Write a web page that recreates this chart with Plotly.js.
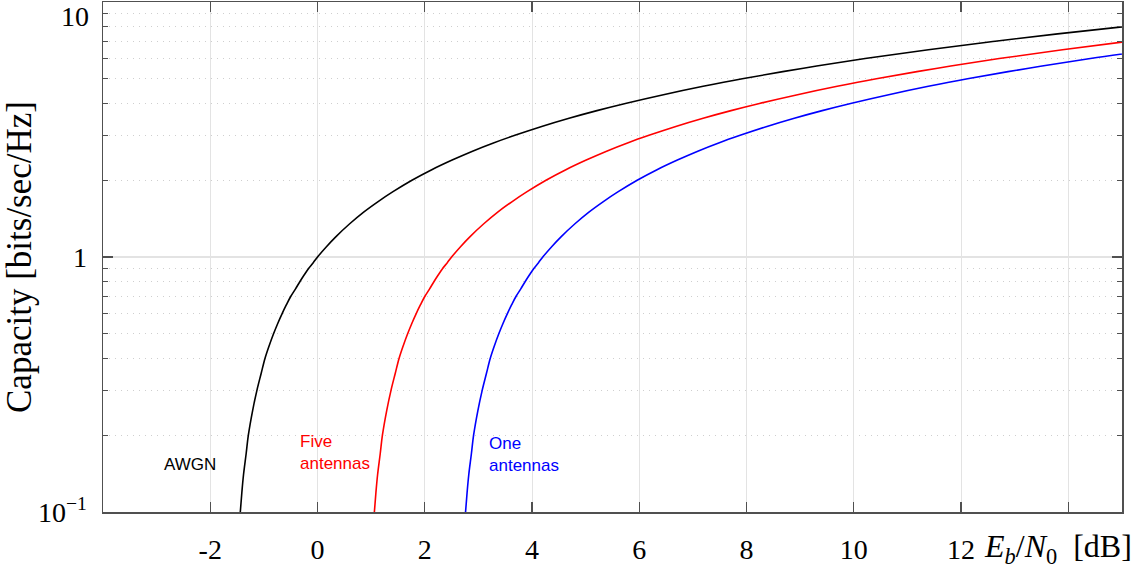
<!DOCTYPE html>
<html><head><meta charset="utf-8">
<script src="https://cdn.plot.ly/plotly-3.0.1.min.js"></script>
<style>html,body{margin:0;padding:0;background:#fff}#chart{width:1142px;height:572px}</style>
</head><body><div id="chart"></div><script>
// Eb/N0 [dB] and capacity [bits/sec/Hz]
const awgnEbN0 = [-1.47, -1.44, -1.41, -1.38, -1.33, -1.29, -1.21, -1.13, -1.05, -0.98, -0.90, -0.82, -0.74, -0.66, -0.58, -0.50, -0.41, -0.33, -0.25, -0.17, -0.08, 0.00, 0.17, 0.34, 0.60, 0.86, 1.13, 1.40, 1.76, 2.13, 2.51, 2.89, 3.28, 3.68, 4.18, 4.69, 5.21, 5.74, 6.45, 7.19, 7.92, 9.06, 10.21, 11.39, 12.59, 13.80, 15.03];
const awgnCap  = [0.08, 0.1, 0.12, 0.14, 0.17, 0.2, 0.25, 0.3, 0.35, 0.4, 0.45, 0.5, 0.55, 0.6, 0.65, 0.7, 0.75, 0.8, 0.85, 0.9, 0.95, 1.0, 1.1, 1.2, 1.35, 1.5, 1.65, 1.8, 2.0, 2.2, 2.4, 2.6, 2.8, 3.0, 3.25, 3.5, 3.75, 4.0, 4.33, 4.67, 5.0, 5.5, 6.0, 6.5, 7.0, 7.5, 8.0];

const fiveEbN0 = [1.03, 1.06, 1.09, 1.12, 1.17, 1.21, 1.29, 1.37, 1.45, 1.52, 1.60, 1.68, 1.76, 1.84, 1.92, 2.00, 2.09, 2.17, 2.25, 2.33, 2.42, 2.50, 2.67, 2.84, 3.10, 3.36, 3.63, 3.90, 4.26, 4.63, 5.01, 5.39, 5.78, 6.18, 6.68, 7.19, 7.71, 8.24, 8.95, 9.69, 10.42, 11.56, 12.71, 13.89, 15.09];
const fiveCap  = [0.08, 0.1, 0.12, 0.14, 0.17, 0.2, 0.25, 0.3, 0.35, 0.4, 0.45, 0.5, 0.55, 0.6, 0.65, 0.7, 0.75, 0.8, 0.85, 0.9, 0.95, 1.0, 1.1, 1.2, 1.35, 1.5, 1.65, 1.8, 2.0, 2.2, 2.4, 2.6, 2.8, 3.0, 3.25, 3.5, 3.75, 4.0, 4.33, 4.67, 5.0, 5.5, 6.0, 6.5, 7.0];

const oneEbN0 = [2.73, 2.76, 2.79, 2.82, 2.87, 2.91, 2.99, 3.07, 3.15, 3.22, 3.30, 3.38, 3.46, 3.54, 3.62, 3.70, 3.79, 3.87, 3.95, 4.03, 4.12, 4.20, 4.37, 4.54, 4.80, 5.06, 5.33, 5.60, 5.96, 6.33, 6.71, 7.09, 7.48, 7.88, 8.38, 8.89, 9.41, 9.94, 10.65, 11.39, 12.12, 13.26, 14.41, 15.59];
const oneCap  = [0.08, 0.1, 0.12, 0.14, 0.17, 0.2, 0.25, 0.3, 0.35, 0.4, 0.45, 0.5, 0.55, 0.6, 0.65, 0.7, 0.75, 0.8, 0.85, 0.9, 0.95, 1.0, 1.1, 1.2, 1.35, 1.5, 1.65, 1.8, 2.0, 2.2, 2.4, 2.6, 2.8, 3.0, 3.25, 3.5, 3.75, 4.0, 4.33, 4.67, 5.0, 5.5, 6.0, 6.5];

const xTickVals = [-2, 0, 2, 4, 6, 8, 10, 12, 14];
const xTickText = ['-2', '0', '2', '4', '6', '8', '10', '12', ''];
const yTickVals = [0.1, 1, 10];
const yTickText = ['10<sup>\u22121</sup>', '1', ''];
const yTopLabel = '10';
const yMinorVals = [0.2, 0.3, 0.4, 0.5, 0.6, 0.7, 0.8, 0.9, 2, 3, 4, 5, 6, 7, 8, 9];

const serif = 'Liberation Serif, Times New Roman, serif';
const sans = 'Liberation Sans, Arial, sans-serif';
const frame = '#505050';

const traces = [
  {x: awgnEbN0, y: awgnCap, name: 'AWGN', mode: 'lines', line: {color: '#000000', width: 1.6, shape: 'spline', smoothing: 1}},
  {x: fiveEbN0, y: fiveCap, name: 'Five antennas', mode: 'lines', line: {color: '#ff0000', width: 1.6, shape: 'spline', smoothing: 1}},
  {x: oneEbN0, y: oneCap, name: 'One antennas', mode: 'lines', line: {color: '#0000ff', width: 1.6, shape: 'spline', smoothing: 1}}
];

const layout = {
  width: 1142, height: 572,
  margin: {l: 103, r: 20, t: 2, b: 60},
  paper_bgcolor: '#ffffff', plot_bgcolor: '#ffffff',
  showlegend: false,
  font: {family: serif, size: 28, color: '#000'},
  xaxis: {
    range: [-4, 15], tickmode: 'array', tickvals: xTickVals, ticktext: xTickText,
    ticks: 'inside', ticklen: 10, tickwidth: 1.3, tickcolor: frame,
    showline: true, linecolor: frame, linewidth: 1.5, mirror: 'ticks',
    showgrid: true, gridcolor: '#e3e3e3', gridwidth: 1, zeroline: false,
    tickfont: {family: serif, size: 28, color: '#000'}, ticklabelstandoff: 12
  },
  yaxis: {
    type: 'log', range: [-1, 1], tickmode: 'array', tickvals: yTickVals, ticktext: yTickText,
    ticks: 'inside', ticklen: 10, tickwidth: 1.3, tickcolor: frame,
    showline: true, linecolor: frame, linewidth: 1.5, mirror: 'ticks',
    showgrid: true, gridcolor: '#e3e3e3', gridwidth: 1.5, zeroline: false,
    tickfont: {family: serif, size: 28, color: '#000'}, ticklabelstandoff: 9,
    minor: {tickmode: 'array', tickvals: yMinorVals, ticks: 'inside', ticklen: 5, tickcolor: frame, tickwidth: 1.2,
            showgrid: true, gridcolor: '#cfcfcf', gridwidth: 1, griddash: '1px,5px'},
    title: {text: 'Capacity [bits/sec/Hz]', font: {family: serif, size: 35, color: '#000'}, standoff: 4}
  },
  annotations: [
    {xref: 'paper', yref: 'paper', x: -0.0118, y: 1, xanchor: 'right', yanchor: 'top', yshift: 3, showarrow: false,
     text: yTopLabel, font: {family: serif, size: 28, color: '#000'}},
    {xref: 'paper', yref: 'paper', x: 0.0854, y: 0.094, xanchor: 'center', yanchor: 'middle', showarrow: false,
     text: 'AWGN', font: {family: sans, size: 17, color: '#000000'}},
    {xref: 'paper', yref: 'paper', x: 0.1914, y: 0.1157, xanchor: 'left', yanchor: 'middle', align: 'left', showarrow: false,
     text: 'Five<br>antennas', font: {family: sans, size: 17, color: '#ff0000'}},
    {xref: 'paper', yref: 'paper', x: 0.3768, y: 0.1118, xanchor: 'left', yanchor: 'middle', align: 'left', showarrow: false,
     text: 'One<br>antennas', font: {family: sans, size: 17, color: '#0000ff'}},
    {xref: 'paper', yref: 'paper', x: 1.012, y: -0.072, xanchor: 'right', yanchor: 'middle', showarrow: false,
     text: '<i>E</i><sub><i>b</i></sub>/<i>N</i><sub>0</sub>&nbsp;&nbsp;[dB]', font: {family: serif, size: 32, color: '#000'}}
  ]
};

Plotly.newPlot('chart', traces, layout, {displayModeBar: false, staticPlot: true});
</script></body></html>
